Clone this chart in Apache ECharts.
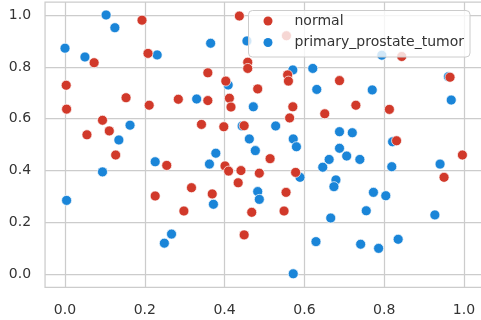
<!DOCTYPE html>
<html>
<head>
<meta charset="utf-8">
<script src="https://cdn.jsdelivr.net/npm/echarts@6/dist/echarts.min.js"></script>
<style>
  html, body { margin: 0; padding: 0; background: #ffffff; }
  #chart { width: 481px; height: 320px; }
</style>
</head>
<body>
<div id="chart"></div>
<script>
// Sample groups: each point is [x, y]
const seriesNames = ['normal', 'primary_prostate_tumor'];

const normalPoints = [
  [0.193, 0.980], [0.208, 0.852], [0.073, 0.816], [0.003, 0.729], [0.004, 0.637],
  [0.153, 0.681], [0.211, 0.652], [0.094, 0.594], [0.111, 0.553], [0.055, 0.538],
  [0.127, 0.460], [0.437, 0.996], [0.458, 0.818], [0.458, 0.794], [0.358, 0.777],
  [0.403, 0.745], [0.483, 0.715], [0.284, 0.675], [0.358, 0.670], [0.412, 0.679],
  [0.416, 0.645], [0.558, 0.769], [0.560, 0.745], [0.571, 0.646], [0.563, 0.603],
  [0.342, 0.578], [0.398, 0.569], [0.449, 0.573], [0.514, 0.446], [0.688, 0.747],
  [0.965, 0.760], [0.729, 0.652], [0.651, 0.619], [0.813, 0.636], [0.831, 0.515],
  [0.996, 0.460], [0.255, 0.420], [0.401, 0.418], [0.410, 0.398], [0.441, 0.400],
  [0.487, 0.390], [0.578, 0.393], [0.317, 0.334], [0.369, 0.310], [0.434, 0.353],
  [0.554, 0.316], [0.298, 0.244], [0.468, 0.239], [0.549, 0.244], [0.449, 0.152],
  [0.226, 0.302], [0.950, 0.374], [0.555, 0.920], [0.844, 0.840]
];

const tumorPoints = [
  [0.103, 1.000], [0.125, 0.951], [0.000, 0.872], [0.050, 0.838], [0.231, 0.846],
  [0.163, 0.575], [0.135, 0.518], [0.226, 0.434], [0.094, 0.395], [0.004, 0.285],
  [0.365, 0.891], [0.456, 0.900], [0.571, 0.788], [0.621, 0.794], [0.631, 0.713],
  [0.409, 0.730], [0.330, 0.676], [0.472, 0.646], [0.444, 0.572], [0.528, 0.572],
  [0.462, 0.522], [0.572, 0.522], [0.580, 0.492], [0.477, 0.477], [0.378, 0.467],
  [0.770, 0.711], [0.968, 0.672], [0.688, 0.550], [0.720, 0.546], [0.688, 0.486],
  [0.706, 0.456], [0.662, 0.443], [0.739, 0.443], [0.821, 0.511], [0.961, 0.762],
  [0.794, 0.845], [0.362, 0.425], [0.372, 0.270], [0.483, 0.319], [0.487, 0.289],
  [0.589, 0.374], [0.267, 0.155], [0.249, 0.120], [0.629, 0.126], [0.572, 0.002],
  [0.646, 0.413], [0.819, 0.415], [0.940, 0.425], [0.679, 0.364], [0.674, 0.338],
  [0.773, 0.316], [0.804, 0.303], [0.755, 0.245], [0.666, 0.217], [0.927, 0.229],
  [0.835, 0.135], [0.741, 0.116], [0.786, 0.100]
];

const tickMin = 0, tickMax = 1, tickStep = 0.2;
const pad = 0.05;

const colors = { normal: '#d1392a', tumor: '#1a85d8' };
const gridColor = '#cccccc';
const textColor = '#333333';
const font = 'DejaVu Sans';
const fontSize = 14;

// Data area: 0..1 maps to a 399 x 259.3 box, with a 5% margin on every side
const plot = { left: 65, top: 15, width: 399, height: 259.3 };
const outer = {
  left: plot.left - pad * plot.width,
  top: plot.top - pad * plot.height,
  width: plot.width * (1 + 2 * pad),
  height: plot.height * (1 + 2 * pad)
};

// Legend frame (semi-transparent so points beneath show faintly)
const legendBox = { x: 248.5, y: 10.5, width: 221.5, height: 46.5 };

const fmt = v => v.toFixed(1);

const chart = echarts.init(document.getElementById('chart'), null, { renderer: 'canvas' });

chart.setOption({
  backgroundColor: '#ffffff',
  animation: false,
  textStyle: { fontFamily: font },
  grid: [
    // frame + data (the right edge runs slightly past the canvas)
    { left: outer.left, top: outer.top, width: outer.width, height: outer.height,
      outerBoundsMode: 'none',
      show: true, borderColor: gridColor, borderWidth: 1.25, backgroundColor: 'transparent' },
    // vertical grid lines and x tick labels
    { left: plot.left, top: outer.top, width: plot.width, height: outer.height,
      outerBoundsMode: 'none' },
    // horizontal grid lines and y tick labels
    { left: outer.left, top: plot.top, width: outer.width, height: plot.height,
      outerBoundsMode: 'none' }
  ],
  xAxis: [
    { gridIndex: 0, type: 'value', min: tickMin - pad, max: tickMax + pad, show: false },
    { gridIndex: 1, type: 'value', min: tickMin, max: tickMax, interval: tickStep,
      axisLine: { show: false }, axisTick: { show: false },
      splitLine: { show: true, lineStyle: { color: gridColor, width: 1.25 } },
      axisLabel: { margin: 16, fontSize: fontSize, color: textColor, fontFamily: font, formatter: fmt } },
    { gridIndex: 2, type: 'value', min: tickMin, max: tickMax, show: false }
  ],
  yAxis: [
    { gridIndex: 0, type: 'value', min: tickMin - pad, max: tickMax + pad, show: false },
    { gridIndex: 1, type: 'value', min: tickMin, max: tickMax, show: false },
    { gridIndex: 2, type: 'value', min: tickMin, max: tickMax, interval: tickStep,
      axisLine: { show: false }, axisTick: { show: false },
      splitLine: { show: true, lineStyle: { color: gridColor, width: 1.25 } },
      axisLabel: { margin: 14, fontSize: fontSize, color: textColor, fontFamily: font, formatter: fmt } }
  ],
  graphic: {
    elements: [
      {
        type: 'rect', z: 50, silent: true,
        shape: { x: legendBox.x, y: legendBox.y, width: legendBox.width, height: legendBox.height, r: 4 },
        style: { fill: 'rgba(255,255,255,0.8)', stroke: gridColor, lineWidth: 1 }
      }
    ]
  },
  legend: {
    data: seriesNames,
    orient: 'vertical',
    left: legendBox.x,
    top: legendBox.y,
    z: 60,
    padding: [3.5, 3, 6, 15],
    itemGap: 7.5,
    itemWidth: 9,
    itemHeight: 9,
    icon: 'circle',
    itemStyle: { borderWidth: 0 },
    formatter: name => '{g|\u00a0}' + name,
    textStyle: {
      fontSize: fontSize, color: textColor, fontFamily: font,
      rich: { g: { width: 17, fontSize: fontSize } }
    }
  },
  series: [
    {
      name: seriesNames[1], type: 'scatter', xAxisIndex: 0, yAxisIndex: 0,
      data: tumorPoints, symbol: 'circle', symbolSize: 10, z: 2,
      itemStyle: { color: colors.tumor, borderColor: '#ffffff', borderWidth: 0.7, opacity: 1 }
    },
    {
      name: seriesNames[0], type: 'scatter', xAxisIndex: 0, yAxisIndex: 0,
      data: normalPoints, symbol: 'circle', symbolSize: 10, z: 3,
      itemStyle: { color: colors.normal, borderColor: '#ffffff', borderWidth: 0.7, opacity: 1 }
    }
  ]
});
</script>
</body>
</html>
